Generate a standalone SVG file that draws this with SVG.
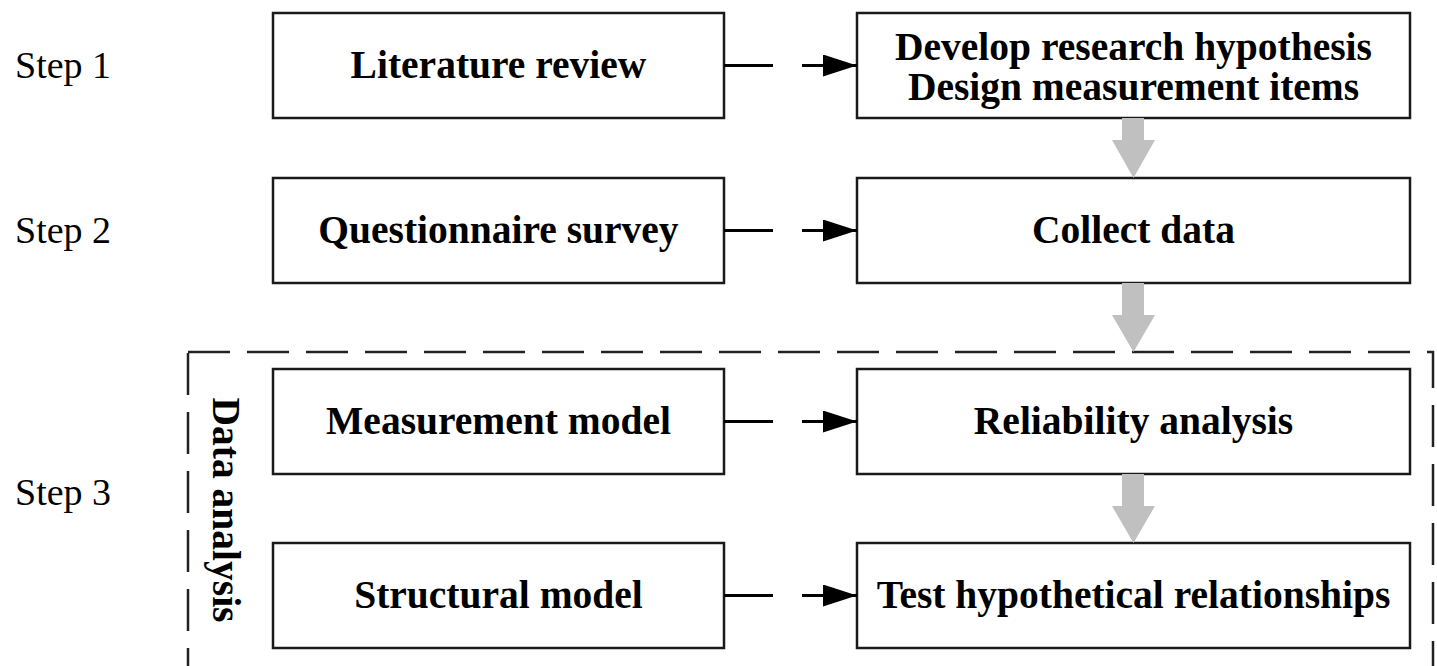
<svg xmlns="http://www.w3.org/2000/svg" width="1437" height="666" viewBox="0 0 1437 666">
  <defs>
    <style>
      .box { fill: #fff; stroke: #1a1a1a; stroke-width: 2.5; }
      .lbl { font-family: "Liberation Serif", "Times New Roman", serif; font-weight: bold; font-size: 39.5px; fill: #000; text-anchor: middle; }
      .step { font-family: "Liberation Serif", "Times New Roman", serif; font-size: 38px; fill: #000; }
      .link { fill: none; stroke: #000; stroke-width: 3; }
      .flow { fill: #c0c0c0; }
      .frame { fill: none; stroke: #222; stroke-width: 2.5; stroke-dasharray: 42 17; }
    </style>
    <marker id="head" viewBox="0 0 34 22" refX="34" refY="11" markerWidth="34" markerHeight="22" markerUnits="userSpaceOnUse" orient="auto">
      <polygon points="0,0 34,11 0,22" fill="#000"/>
    </marker>
  </defs>

  <!-- dashed frame around the data analysis stage -->
  <rect class="frame" x="188" y="352" width="1245" height="340"/>

  <!-- step labels -->
  <text class="step" x="15" y="78">Step 1</text>
  <text class="step" x="15" y="243">Step 2</text>
  <text class="step" x="15" y="505">Step 3</text>

  <text class="lbl" transform="translate(213,510) rotate(90)" x="0" y="0">Data analysis</text>

  <!-- left column -->
  <g id="literature-review">
    <rect class="box" x="273" y="13" width="451" height="105"/>
    <text class="lbl" x="498.5" y="78">Literature review</text>
  </g>
  <g id="questionnaire-survey">
    <rect class="box" x="273" y="178" width="451" height="105"/>
    <text class="lbl" x="498.5" y="243">Questionnaire survey</text>
  </g>
  <g id="measurement-model">
    <rect class="box" x="273" y="369" width="451" height="105"/>
    <text class="lbl" x="498.5" y="434">Measurement model</text>
  </g>
  <g id="structural-model">
    <rect class="box" x="273" y="543" width="451" height="105"/>
    <text class="lbl" x="498.5" y="608">Structural model</text>
  </g>

  <!-- right column -->
  <g id="hypothesis-design">
    <rect class="box" x="857" y="13" width="553" height="105"/>
    <text class="lbl" x="1133.5" y="60">Develop research hypothesis</text>
    <text class="lbl" x="1133.5" y="100">Design measurement items</text>
  </g>
  <g id="collect-data">
    <rect class="box" x="857" y="178" width="553" height="105"/>
    <text class="lbl" x="1133.5" y="243">Collect data</text>
  </g>
  <g id="reliability-analysis">
    <rect class="box" x="857" y="369" width="553" height="105"/>
    <text class="lbl" x="1133.5" y="434">Reliability analysis</text>
  </g>
  <g id="test-relationships">
    <rect class="box" x="857" y="543" width="553" height="105"/>
    <text class="lbl" x="1133.5" y="608">Test hypothetical relationships</text>
  </g>

  <!-- connectors -->
  <g id="connectors">
    <path class="link" d="M724 65.5 H773"/>
    <path class="link" d="M802 65.5 H857" marker-end="url(#head)"/>
    <path class="link" d="M724 230.5 H773"/>
    <path class="link" d="M802 230.5 H857" marker-end="url(#head)"/>
    <path class="link" d="M724 421.5 H773"/>
    <path class="link" d="M802 421.5 H857" marker-end="url(#head)"/>
    <path class="link" d="M724 595.5 H773"/>
    <path class="link" d="M802 595.5 H857" marker-end="url(#head)"/>

    <polygon class="flow" points="1122,118 1144,118 1144,140 1155,140 1133.5,178 1112,140 1122,140"/>
    <polygon class="flow" points="1122,283 1144,283 1144,315 1155,315 1133.5,352 1112,315 1122,315"/>
    <polygon class="flow" points="1122,474 1144,474 1144,506 1155,506 1133.5,543 1112,506 1122,506"/>
  </g>
</svg>
